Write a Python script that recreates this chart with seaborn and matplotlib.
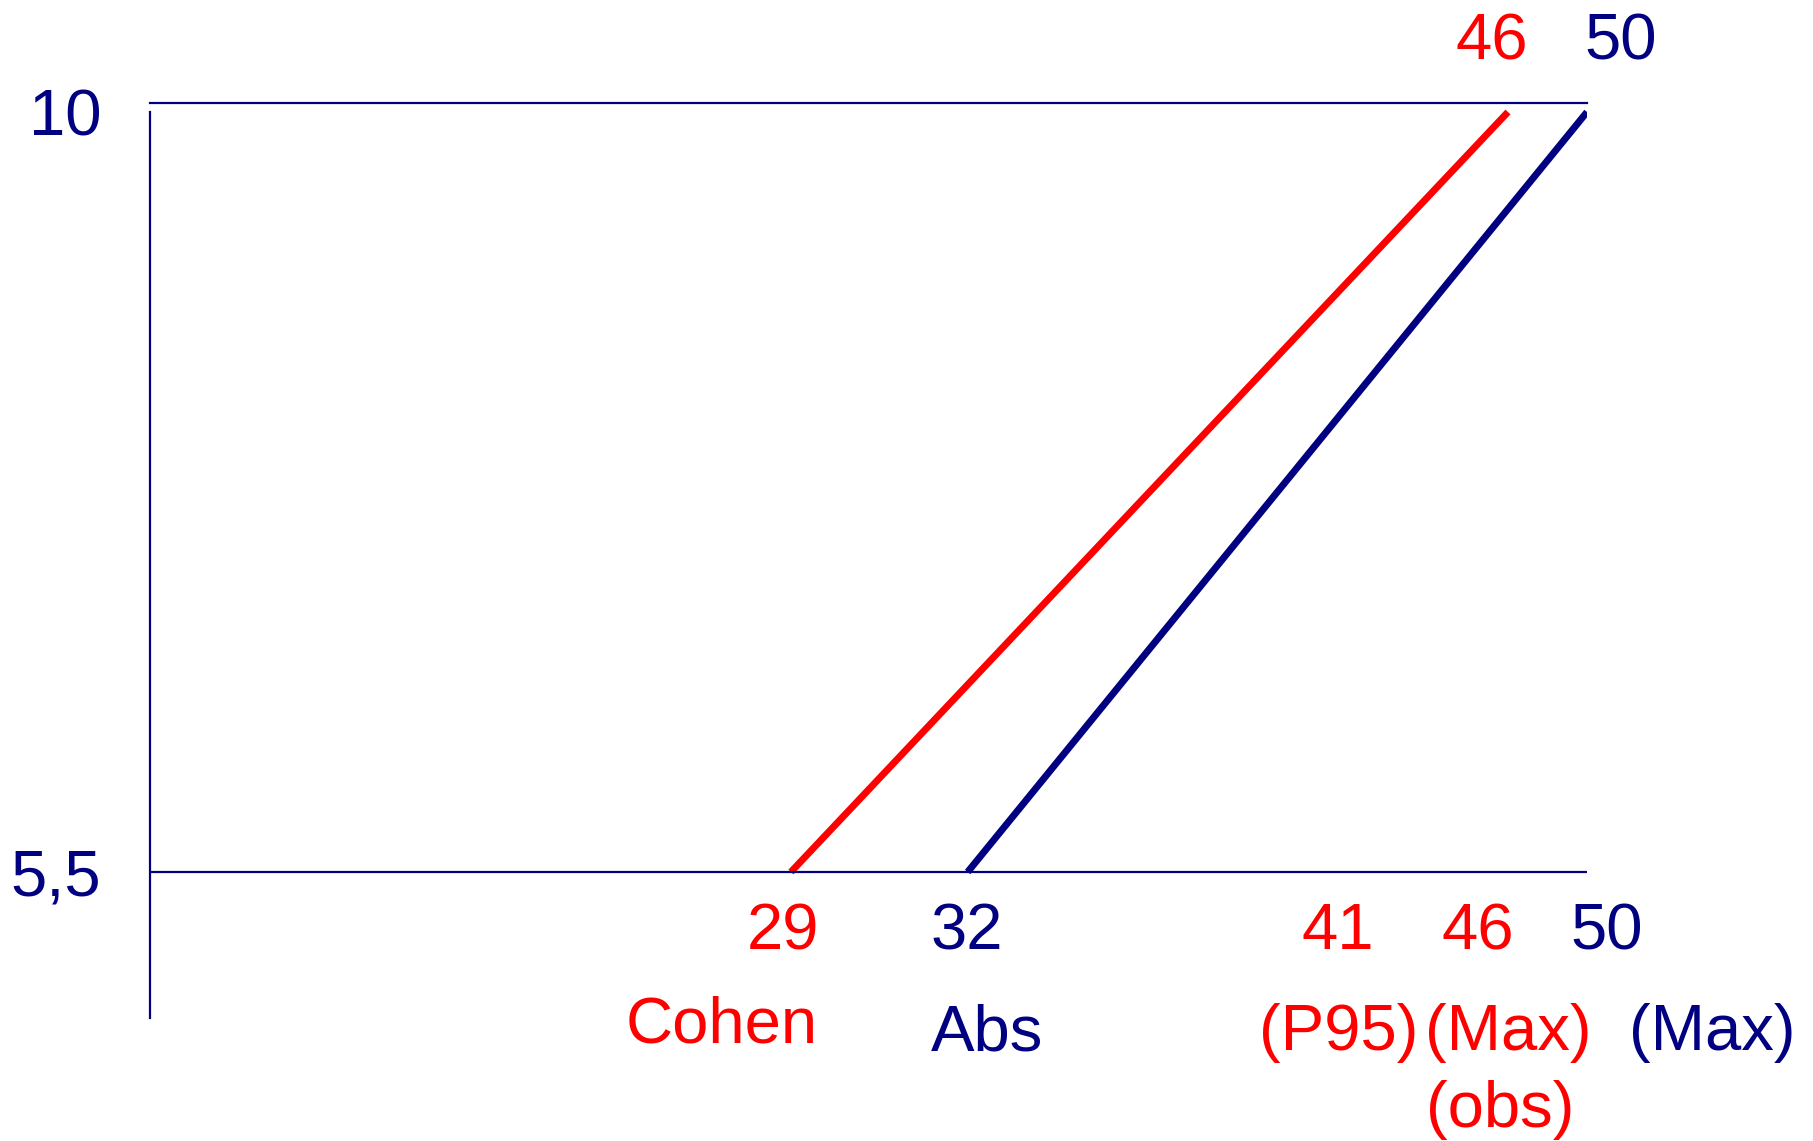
import numpy as np
import pandas as pd
import seaborn as sns
import matplotlib.pyplot as plt

# value range shared by both lines (y) and the end points of each line (x)
y_range = [5.5, 10]
cohen_x = [29, 46]
abs_x = [32, 50]

# values marked under the 5,5 line and the words below them
red_marks = [29, 41, 46]
red_words = ["Cohen", "(P95)", "(Max)"]
blue_marks = [32, 50]
blue_words = ["Abs", "(Max)"]

RED = "#ff0000"
NAVY = "#000080"
FS = 47
PT = 72 / 100  # px -> points at dpi 100

df = pd.DataFrame({
    "x": cohen_x + abs_x,
    "y": y_range + y_range,
    "scale": ["Cohen"] * 2 + ["Abs"] * 2,
})

sns.set_style("white")
plt.rcParams["font.family"] = ["Liberation Sans", "DejaVu Sans"]

fig = plt.figure(figsize=(18.13, 11.41), dpi=100)
ax = fig.add_axes([150 / 1813, 1 - 1018 / 1141, 1437 / 1813, 915 / 1141])

# the drawing is a sketch, so the x axis is stretched piecewise between the end points
anchor_x = sorted(cohen_x + abs_x)
anchor_pos = [0.446, 0.569, 0.945, 1.0]
lo = anchor_pos[0] - (anchor_pos[1] - anchor_pos[0]) / (anchor_x[1] - anchor_x[0]) * 1000
hi = anchor_pos[-1] + (anchor_pos[-1] - anchor_pos[-2]) / (anchor_x[-1] - anchor_x[-2]) * 1000
ax_x = [anchor_x[0] - 1000] + anchor_x + [anchor_x[-1] + 1000]
ax_p = [lo] + anchor_pos + [hi]


def fwd(v):
    return np.interp(v, ax_x, ax_p)


def inv(v):
    return np.interp(v, ax_p, ax_x)


ax.set_xscale("function", functions=(fwd, inv))

sns.lineplot(data=df, x="x", y="y", hue="scale", palette={"Cohen": RED, "Abs": NAVY},
             linewidth=5.0, legend=False, ax=ax, solid_capstyle="butt")

ax.axhline(y_range[0], color=NAVY, linewidth=1.6)

ax.set_xlim(inv(0), inv(1))
ax.set_ylim(y_range[0] - 146 / 168.9, y_range[1] + 9 / 168.9)

for s in ["right", "bottom"]:
    ax.spines[s].set_visible(False)
for s in ["left", "top"]:
    ax.spines[s].set_color(NAVY)
    ax.spines[s].set_linewidth(1.6)
ax.spines["left"].set_bounds(ax.get_ylim()[0], y_range[1])

ax.set_xticks([])
ax.set_yticks(y_range)
ax.set_yticklabels(["5,5", "10"])
ax.tick_params(axis="y", length=0, pad=35, labelsize=FS, labelcolor=NAVY)
ax.set_xlabel("")
ax.set_ylabel("")


def label(txt, x, y, dx, dy, color):
    ax.annotate(txt, xy=(x, y), xytext=(dx * PT, dy * PT), textcoords="offset points",
                ha="center", va="baseline", color=color, fontsize=FS)


# numbers under the line
for v, dx in zip(red_marks, [-8, 23, -30]):
    label(str(v), v, y_range[0], dx, -77, RED)
for v, dx in zip(blue_marks, [-1, 20]):
    label(str(v), v, y_range[0], dx, -77, NAVY)

# words under the numbers
for v, w, dx, dy in zip(red_marks, red_words, [-69, 24, 0], [-170, -178, -178]):
    label(w, v, y_range[0], dx, dy, RED)
label("(obs)", red_marks[-1], y_range[0], -8, -255, RED)
for v, w, dx in zip(blue_marks, blue_words, [19, 125]):
    label(w, v, y_range[0], dx, -178, NAVY)

# numbers above the top ends of the lines
label(str(cohen_x[1]), cohen_x[1], y_range[1], -16, 52, RED)
label(str(abs_x[1]), abs_x[1], y_range[1], 34, 52, NAVY)

fig.savefig("out.png", dpi=100)
